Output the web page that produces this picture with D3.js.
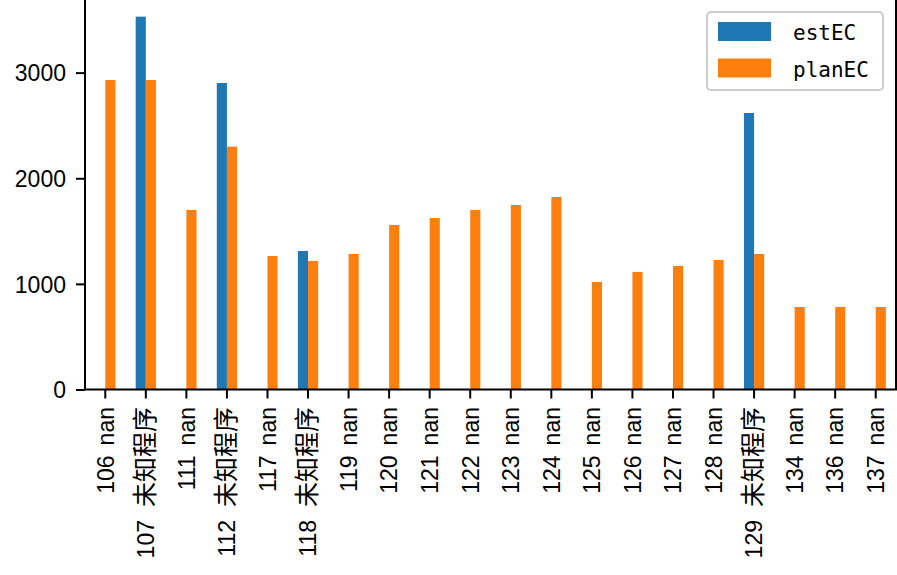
<!DOCTYPE html>
<html>
<head>
<meta charset="utf-8">
<script src="https://cdn.jsdelivr.net/npm/d3@7"></script>
<style>
  body { margin: 0; background: #fff; }
  text { fill: #000; }
</style>
</head>
<body>
<div id="chart"></div>
<script>
// Data
let ids = [106, 107, 111, 112, 117, 118, 119, 120, 121, 122, 123, 124, 125, 126, 127, 128, 129, 134, 136, 137];
let names = ["nan", "未知程序", "nan", "未知程序", "nan", "未知程序", "nan", "nan", "nan", "nan",
  "nan", "nan", "nan", "nan", "nan", "nan", "未知程序", "nan", "nan", "nan"];
let estEC = [null, 3530, null, 2902, null, 1311, null, null, null, null,
  null, null, null, null, null, null, 2618, null, null, null];
let planEC = [2930, 2930, 1700, 2299, 1264, 1217, 1283, 1558, 1624, 1700,
  1747, 1823, 1018, 1113, 1170, 1226, 1283, 781, 781, 781];
let yTicks = [0, 1000, 2000, 3000];
let seriesNames = ["estEC", "planEC"];
let colors = ["#1f77b4", "#ff7f0e"];

let W = 897, H = 575;
let plot = { left: 85, right: 896, top: -2, bottom: 389.5 };

let svg = d3.select("#chart").append("svg")
  .attr("width", W).attr("height", H);

// Scales
let x = d3.scaleBand()
  .domain(d3.range(ids.length))
  .range([plot.left, plot.right])
  .paddingInner(0).paddingOuter(0);
let bw = x.bandwidth() * 0.25;
let yMax = d3.max(estEC.concat(planEC)) * 1.05;
let y = d3.scaleLinear().domain([0, yMax]).range([plot.bottom, plot.top]);

// Bars
let rows = ids.map((id, i) => ({ i: i, est: estEC[i], plan: planEC[i] }));
svg.append("g").selectAll("rect")
  .data(rows.filter(d => d.est != null))
  .join("rect")
  .attr("x", d => x(d.i) + x.bandwidth() / 2 - bw)
  .attr("y", d => y(d.est))
  .attr("width", bw)
  .attr("height", d => y(0) - y(d.est))
  .attr("fill", colors[0]);
svg.append("g").selectAll("rect")
  .data(rows)
  .join("rect")
  .attr("x", d => x(d.i) + x.bandwidth() / 2)
  .attr("y", d => y(d.plan))
  .attr("width", bw)
  .attr("height", d => y(0) - y(d.plan))
  .attr("fill", colors[1]);

// y axis
let yAxis = d3.axisLeft(y).tickValues(yTicks).tickSize(9).tickPadding(10).tickFormat(d3.format("d"));
let yAxisEl = svg.append("g")
  .attr("transform", "translate(" + plot.left + ",0)")
  .call(yAxis);
yAxisEl.select(".domain").remove();
yAxisEl.selectAll(".tick line").attr("stroke", "#000").attr("stroke-width", 2);
yAxisEl.selectAll(".tick text")
  .attr("font-family", "Liberation Sans, Arial, sans-serif")
  .attr("font-size", 23)
  .attr("dy", "0.36em");

// x axis ticks
let xAxisEl = svg.append("g").attr("transform", "translate(0," + plot.bottom + ")");
xAxisEl.selectAll("line")
  .data(rows)
  .join("line")
  .attr("x1", d => x(d.i) + x.bandwidth() / 2)
  .attr("x2", d => x(d.i) + x.bandwidth() / 2)
  .attr("y1", 0).attr("y2", 9)
  .attr("stroke", "#000").attr("stroke-width", 2);

// rotated category labels
let lab = svg.append("g").selectAll("text")
  .data(rows)
  .join("text")
  .attr("transform", d => "translate(" + (x(d.i) + x.bandwidth() / 2) + ",407) rotate(-90)")
  .attr("text-anchor", "end")
  .attr("dy", "0.36em")
  .attr("font-family", "Liberation Sans, Arial, sans-serif")
  .attr("font-size", 23);
lab.append("tspan").text(d => ids[d.i]);
lab.append("tspan")
  .attr("dx", d => names[d.i] == "nan" ? 10 : 13)
  .attr("font-family", d => names[d.i] == "nan" ? "Liberation Sans, Arial, sans-serif" : "Noto Sans CJK SC")
  .attr("font-size", d => names[d.i] == "nan" ? 23 : 25)
  .text(d => names[d.i]);

// spines
svg.append("line")
  .attr("x1", plot.left).attr("x2", plot.left)
  .attr("y1", plot.top).attr("y2", plot.bottom)
  .attr("stroke", "#000").attr("stroke-width", 2);
svg.append("line")
  .attr("x1", plot.right).attr("x2", plot.right)
  .attr("y1", plot.top).attr("y2", plot.bottom)
  .attr("stroke", "#000").attr("stroke-width", 2);
svg.append("line")
  .attr("x1", plot.left - 1).attr("x2", plot.right + 1)
  .attr("y1", plot.bottom).attr("y2", plot.bottom)
  .attr("stroke", "#000").attr("stroke-width", 2);

// legend
let legend = svg.append("g");
legend.append("rect")
  .attr("x", 707).attr("y", 12).attr("width", 176).attr("height", 78)
  .attr("rx", 4)
  .attr("fill", "#fff").attr("fill-opacity", 0.8)
  .attr("stroke", "#cccccc").attr("stroke-width", 2);
seriesNames.forEach((s, i) => {
  legend.append("rect")
    .attr("x", 718).attr("y", 22 + i * 36.5)
    .attr("width", 53).attr("height", 19)
    .attr("fill", colors[i]);
  legend.append("text")
    .attr("x", 793).attr("y", 40 + i * 37)
    .attr("font-family", "DejaVu Sans Mono, monospace")
    .attr("font-size", 21)
    .text(s);
});
</script>
</body>
</html>
